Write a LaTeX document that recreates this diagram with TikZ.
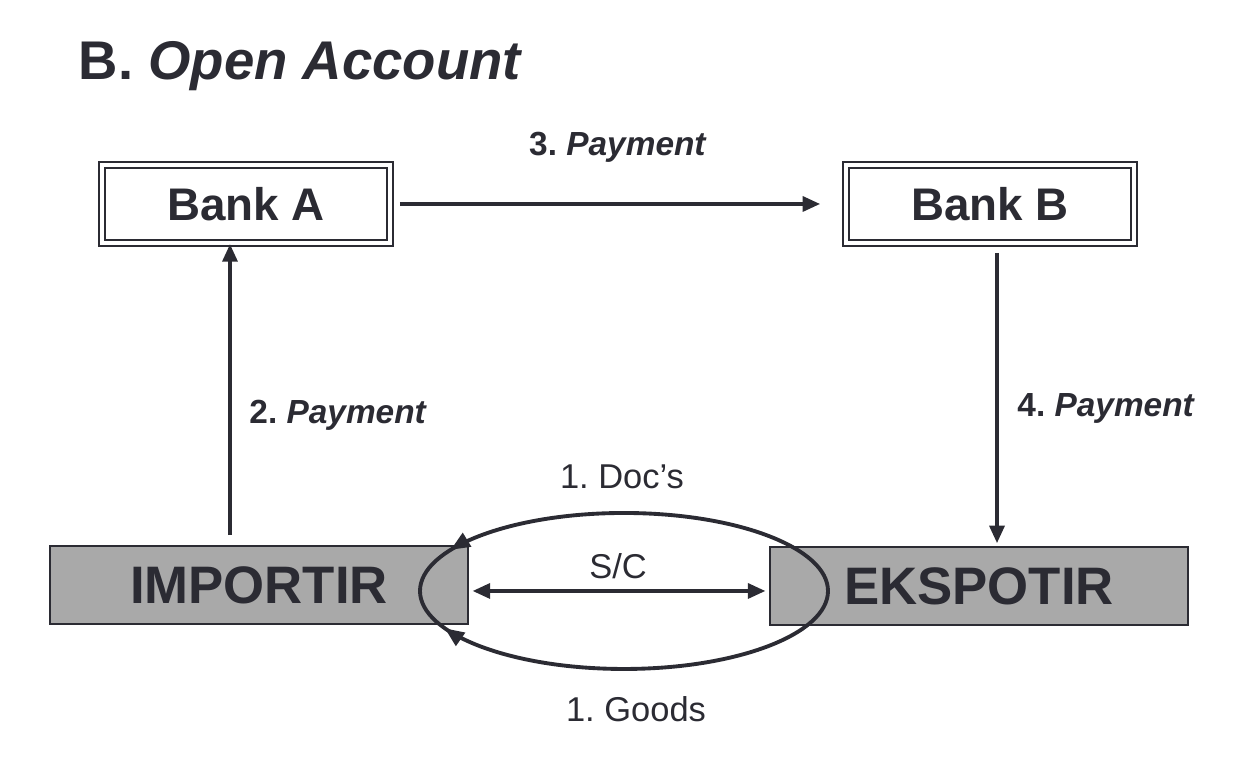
\documentclass[tikz,border=0pt]{standalone}
\usepackage{fontspec}
\setmainfont{Liberation Sans}
\usepackage{tikz}
\usetikzlibrary{arrows.meta, positioning, calc, decorations.markings}
\definecolor{inkgray}{HTML}{2B2B33}
\definecolor{boxgray}{HTML}{A9A9A9}
\frenchspacing

\begin{document}
\begin{tikzpicture}[x=0.01cm, y=0.01cm,
      bank/.style={draw=inkgray, double, double distance=1.1pt, line width=0.6pt,
                   minimum width=2.88cm, minimum height=0.78cm,
                   font=\fontsize{13}{15}\selectfont\bfseries, text=inkgray},
      party/.style={draw=inkgray, line width=0.5pt, fill=boxgray,
                    minimum width=4.18cm, minimum height=0.78cm,
                    font=\fontsize{15}{18}\selectfont\bfseries, text=inkgray},
      arr/.style={-{Triangle[length=5pt, width=4.2pt]}, line width=1.1pt, inkgray},
      pay/.style={font=\fontsize{9.5}{11}\selectfont\bfseries, text=inkgray},
      lbl/.style={font=\fontsize{9.8}{11}\selectfont, text=inkgray},
      cyc/.style={line width=1.1pt, inkgray, postaction={decorate},
                  decoration={markings, mark=at position #1 with
                    {\arrow{Triangle[length=5.5pt, width=4.4pt]}}}}
    ]
      \useasboundingbox (0,0) rectangle (1248,768);

      % Title
      \node[anchor=base west, inner sep=0pt, text=inkgray,
            font=\fontsize{15.5}{18}\selectfont\bfseries] (title) at (78,688)
            {B. \textit{Open Account}};

      % Banks
      \node[bank] (bankA) at (246,564) {Bank A};
      \node[bank] (bankB) at (990,564) {Bank B};

      % Importir / Ekspotir
      \node[party] (imp) at (259,183) {IMPORTIR};
      \node[party] (eks) at (979,182) {EKSPOTIR};

      % Payment flow
      \draw[arr, shorten <=2.5pt, shorten >=7pt] (bankA) -- (bankB);
      \node[pay] (pay3) at (618,621) {3. \textit{Payment}};
      \draw[arr, shorten <=2.8pt] ([xshift=-0.16cm]bankA.south |- imp.north) -- ([xshift=-0.16cm]bankA.south);
      \node[pay, anchor=west] (pay2) at (237,353) {2. \textit{Payment}};
      \draw[arr, shorten <=2.5pt, shorten >=0.8pt] ([xshift=0.07cm]bankB.south) -- ([xshift=0.07cm]bankB.south |- eks.north);
      \node[pay, anchor=west] (pay4) at (1005,360) {4. \textit{Payment}};

      % Contract
      \draw[{Triangle[length=5pt, width=4.2pt]}-{Triangle[length=5pt, width=4.2pt]},
            line width=1.1pt, inkgray, shorten <=1pt, shorten >=1pt]
            ([yshift=-0.06cm]imp.east) -- ([yshift=-0.06cm]imp.east -| eks.west);
      \node[lbl] (sc) at (618,202) {S/C};

      % Doc's and goods loop
      \coordinate (loop) at (624,177);
      \draw[cyc=0.885] ($(loop)+(204,0)$) arc[start angle=0, end angle=180, x radius=204, y radius=78];
      \draw[cyc=0.9] ($(loop)+(204,0)$) arc[start angle=0, end angle=-180, x radius=204, y radius=78];
      \node[lbl] (docs) at (622,291) {1. Doc’s};
      \node[lbl] (goods) at (636,59) {1. Goods};
    \end{tikzpicture}
\end{document}
